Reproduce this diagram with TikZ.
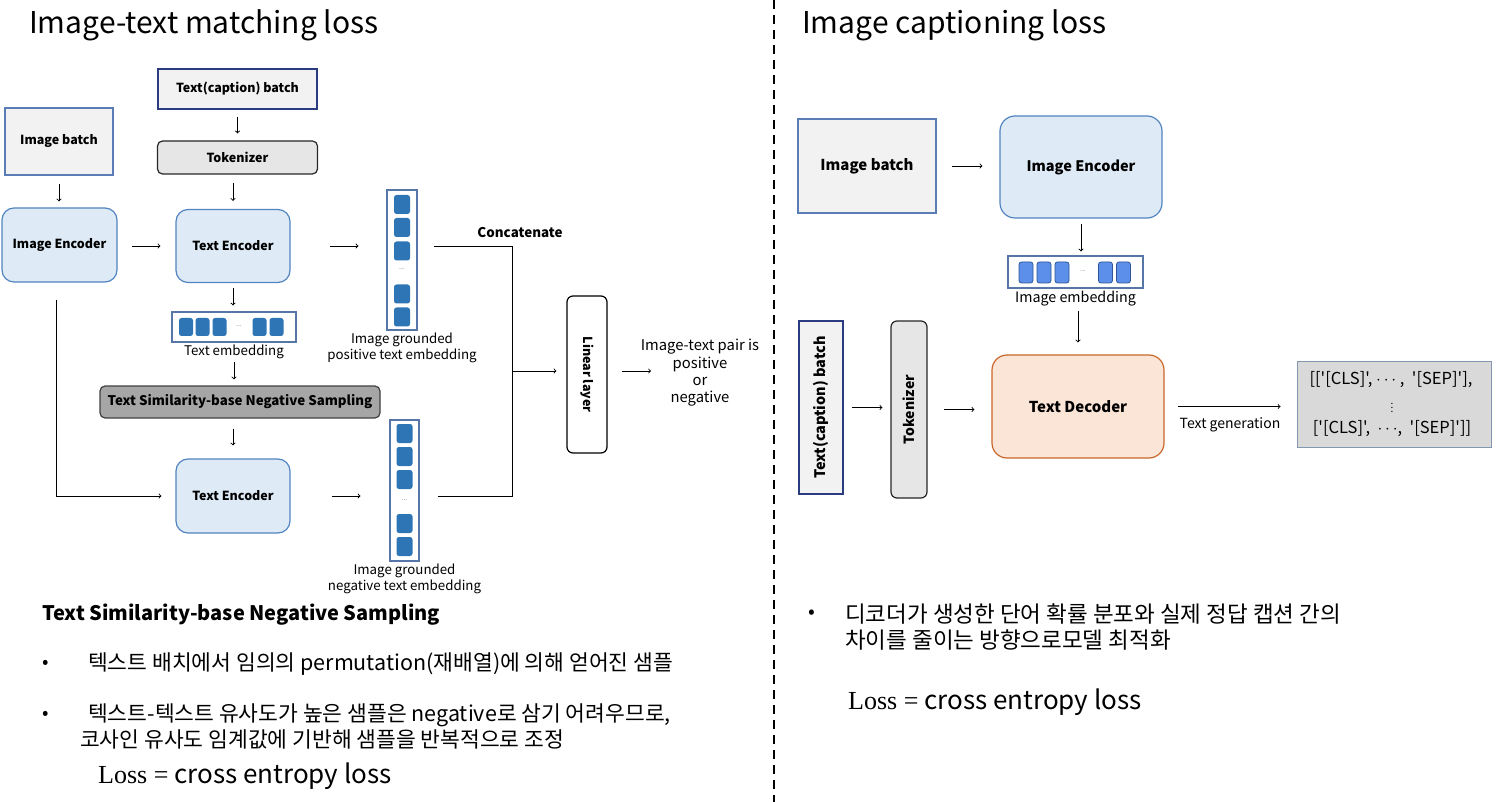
\documentclass[tikz,border=0pt]{standalone}
\usepackage{fontspec}
\setmainfont{Noto Sans CJK KR}
\newfontfamily\lossfont{Liberation Serif}
\newfontfamily\genfont{Noto Sans CJK KR}[Ligatures=TeXOff]
\usepackage{graphicx}
\usepackage{xcolor}
\usepackage{tikz}

\definecolor{batchfill}{HTML}{F2F2F2}
\definecolor{batchline}{HTML}{5B7DB5}
\definecolor{navyline}{HTML}{2A3B7F}
\definecolor{encfill}{HTML}{DEEBF7}
\definecolor{encline}{HTML}{5284BF}
\definecolor{tokfill}{HTML}{E7E6E6}
\definecolor{sampfill}{HTML}{A6A6A6}
\definecolor{decfill}{HTML}{FBE5D6}
\definecolor{decline}{HTML}{C8672A}
\definecolor{genfill}{HTML}{D9D9D9}
\definecolor{genline}{HTML}{8497B0}
\definecolor{embline}{HTML}{5676A8}
\definecolor{embfill}{HTML}{2E75B6}
\definecolor{embfillR}{HTML}{5B8FEA}
\definecolor{embcellline}{HTML}{2F5597}

\tikzset{
  boxfont/.style={font=\bfseries\fontsize{12.5}{14}\selectfont},
  boxfontR/.style={font=\bfseries\fontsize{15}{17}\selectfont},
  batchbox/.style={draw=batchline, fill=batchfill, line width=1.2pt, inner sep=0pt},
  encbox/.style={draw=encline, fill=encfill, rounded corners=12pt, line width=1.2pt, inner sep=0pt},
  tokbox/.style={draw=black!85, fill=tokfill, rounded corners=5pt, line width=1.2pt, inner sep=0pt},
  sampbox/.style={draw=black!75, fill=sampfill, rounded corners=5pt, line width=1.2pt, inner sep=0pt},
  decbox/.style={draw=decline, fill=decfill, rounded corners=15pt, line width=1.2pt, inner sep=0pt},
  linbox/.style={draw=black, fill=white, rounded corners=6pt, line width=1.2pt, inner sep=0pt},
  genbox/.style={draw=genline, fill=genfill, line width=1pt, inner sep=0pt},
  gentext/.style={inner sep=0pt, font=\genfont\fontsize{16.5}{20}\selectfont},
  embcol/.style={draw=embline, line width=1.1pt, inner sep=0pt},
  embcell/.style={fill=embfill, rounded corners=2.5pt, minimum width=16pt, minimum height=19pt, inner sep=0pt},
  embcellR/.style={fill=embfillR, draw=embcellline, line width=0.8pt, rounded corners=2.5pt,
    minimum width=14pt, minimum height=21pt, inner sep=0pt},
  dots/.style={text=black!55, font=\fontsize{7}{8}\selectfont, inner sep=0pt},
  lbl/.style={align=center, inner sep=2pt, font=\fontsize{13.3}{16}\selectfont},
  note/.style={anchor=west, inner sep=0pt, font=\fontsize{21.5}{24}\selectfont},
  noteR/.style={anchor=west, inner sep=0pt, font=\fontsize{22.5}{26}\selectfont},
  title/.style={anchor=west, inner sep=0pt, font=\fontsize{30}{34}\selectfont},
  arr/.style={->, line width=0.9pt},
  divider/.style={line width=1.5pt, dash pattern=on 9pt off 6pt},
}

\begin{document}
\begin{tikzpicture}[x=1pt,y=-1pt]
    \useasboundingbox (0,0) rectangle (1502,802);

    % Titles and the dashed divider
    \node[title] (titleL) at (29,25) {Image-text matching loss};
    \node[title] (titleR) at (802,25) {Image captioning loss};
    \draw[divider] (774,0) -- (774,802);

    % Left: inputs and encoders
    \node[batchbox, draw=navyline, boxfont, minimum width=159pt, minimum height=40pt] (capL) at (237.5,89) {Text(caption) batch};
    \node[tokbox, boxfont, minimum width=160pt, minimum height=33pt] (tokL) at (237.5,157.5) {Tokenizer};
    \node[batchbox, boxfont, minimum width=108pt, minimum height=67pt] (imgL) at (59,141.5) {Image batch};
    \node[encbox, boxfont, minimum width=115pt, minimum height=74pt] (iencL) at (59.5,245) {Image Encoder};
    \node[encbox, boxfont, minimum width=114pt, minimum height=73pt] (tencA) at (233,246) {Text Encoder};
    \node[sampbox, boxfont, font=\bfseries\fontsize{13.3}{15}\selectfont, minimum width=280pt, minimum height=32pt] (negsamp) at (240,402) {Text Similarity-base Negative Sampling};
    \node[encbox, boxfont, minimum width=114pt, minimum height=74pt] (tencB) at (233,496) {Text Encoder};

    % Left: embeddings
    \node[embcol, minimum width=124pt, minimum height=30pt] (txtemb) at (234,327) {};
    \foreach \x in {186,202.5,219.5,259.5,276.5}
        \node[embcell, minimum width=14pt, minimum height=18pt] at (\x,327) {};
    \node[dots] at (239,326) {...};
    \node[lbl, anchor=north] (txtemblbl) at (txtemb.south) {Text embedding};

    \node[embcol, minimum width=30pt, minimum height=140pt] (posemb) at (402,260) {};
    \foreach \y in {204.5,227.5,251,294,317}
        \node[embcell] at (402,\y) {};
    \node[dots] at (402,269) {...};
    \node[lbl, anchor=north] (poslbl) at (posemb.south) {Image grounded\\positive text embedding};

    \node[embcol, minimum width=29pt, minimum height=141pt] (negemb) at (404.5,490.5) {};
    \foreach \y in {433.5,456.5,479.5,523.5,546.5}
        \node[embcell] at (404.5,\y) {};
    \node[dots] at (404.5,500) {...};
    \node[lbl, anchor=north] (neglbl) at (negemb.south) {Image grounded\\negative text embedding};

    % Left: linear layer and output
    \node[linbox, minimum width=40pt, minimum height=157pt] (linear) at (587,374.5) {\rotatebox{-90}{\bfseries\fontsize{12.5}{14}\selectfont Linear layer}};
    \node[lbl, font=\fontsize{14.8}{17.4}\selectfont] (pairout) at (700,373) {Image-text pair is\\positive\\or\\negative};
    \node[boxfont, font=\bfseries\fontsize{13.4}{15}\selectfont] (concat) at (520,233) {Concatenate};
    \coordinate (cat) at (512,371);
    \coordinate (pairtip) at (651,371);

    % Left: arrows
    \draw[arr, shorten <=7pt, shorten >=7pt] (capL.south) -- (tokL.north);
    \draw[arr, shorten <=8pt, shorten >=8pt] (tokL.south -| tencA.north) -- (tencA.north);
    \draw[arr, shorten <=8pt, shorten >=6pt] (imgL.south) -- (imgL.south |- iencL.north);
    \draw[arr, shorten <=14pt, shorten >=15pt] (tencA.west -| iencL.east) -- (tencA.west);
    \draw[arr, shorten <=39pt, shorten >=28pt] (tencA.east) -- (tencA.east -| posemb.west);
    \draw[arr, shorten <=5pt, shorten >=6pt] (tencA.south) -- (tencA.south |- txtemb.north);
    \draw[arr, shorten <=1pt, shorten >=6pt] (txtemblbl.south) -- (txtemblbl.south |- negsamp.north);
    \draw[arr, shorten <=10pt, shorten >=13pt] (negsamp.south -| tencB.north) -- (tencB.north);
    \draw[arr, shorten <=17pt, shorten >=14pt] ([xshift=-3.5pt]iencL.south) |- (tencB.west);
    \draw[arr, shorten <=41pt, shorten >=29pt] (tencB.east) -- (tencB.east -| negemb.west);
    \draw[line width=0.9pt, shorten <=16pt] (tencA.east -| posemb.east) -| (cat);
    \draw[line width=0.9pt, shorten <=18pt] (tencB.east -| negemb.east) -| (cat);
    \draw[arr, shorten >=10pt] (cat) -- (cat -| linear.west);
    \draw[arr, shorten <=14pt] (pairtip -| linear.east) -- (pairtip);

    % Right: boxes
    \node[batchbox, boxfontR, minimum width=138pt, minimum height=94pt] (imgR) at (867,166) {Image batch};
    \node[encbox, boxfontR, font=\bfseries\fontsize{14.5}{17}\selectfont, rounded corners=15pt, minimum width=162pt, minimum height=102pt] (iencR) at (1081,167) {Image Encoder};
    \node[decbox, boxfontR, minimum width=172pt, minimum height=103pt] (tdec) at (1078,406.5) {Text Decoder};
    \node[batchbox, draw=navyline, minimum width=44pt, minimum height=173pt] (capR) at (821,407.5) {\rotatebox{90}{\bfseries\fontsize{14.5}{16}\selectfont Text(caption) batch}};
    \node[tokbox, rounded corners=6pt, minimum width=36pt, minimum height=177pt] (tokR) at (909,409.5) {\rotatebox{90}{\bfseries\fontsize{14}{16}\selectfont Tokenizer}};
    \node[genbox, minimum width=194pt, minimum height=86pt] (gen) at (1394,404) {};
    \node[gentext] (genA) at (1391,380) {[['[CLS]', $\cdots$ ,~~'[SEP]'],};
    \node[gentext, font=\fontsize{10}{11}\selectfont] (genB) at (1392,405) {$\vdots$};
    \node[gentext] (genC) at (1392,429) {['[CLS]',~~$\cdots$,~~'[SEP]']]};

    % Right: image embedding
    \node[embcol, minimum width=135pt, minimum height=32pt] (imgemb) at (1075.5,272) {};
    \foreach \x in {1026,1044,1062,1105.5,1123.5}
        \node[embcellR] at (\x,272.5) {};
    \node[dots] at (1083,271) {...};
    \node[lbl, anchor=north, font=\fontsize{14.3}{16}\selectfont] (imgemblbl) at (imgemb.south) {Image embedding};
    \node[lbl, font=\fontsize{14}{16}\selectfont] (genlbl) at (1230,425) {Text generation};

    % Right: arrows
    \draw[arr, shorten <=15pt, shorten >=17pt] (imgR.east) -- (imgR.east -| iencR.west);
    \draw[arr, shorten <=5pt, shorten >=4pt] (iencR.south) -- (iencR.south |- imgemb.north);
    \draw[arr, shorten <=3pt, shorten >=12pt] (tdec.north |- imgemblbl.south) -- (tdec.north);
    \draw[arr, shorten <=8pt, shorten >=8pt] (capR.east) -- (capR.east -| tokR.west);
    \draw[arr, shorten <=16pt, shorten >=17pt] (tokR.east) -- (tokR.east -| tdec.west);
    \draw[arr, shorten <=13pt, shorten >=16pt] (tdec.east) -- (tdec.east -| gen.west);

    % Left: notes
    \node[note, font=\bfseries\fontsize{20}{23}\selectfont] (samphead) at (42,615) {Text Similarity-base Negative Sampling};
    \node[note, font=\fontsize{19}{22}\selectfont] (dotA) at (42,664) {•};
    \node[note] (noteA) at (88,664) {텍스트 배치에서 임의의 permutation(재배열)에 의해 얻어진 샘플};
    \node[note, font=\fontsize{19}{22}\selectfont] (dotB) at (42,715) {•};
    \node[note] (noteB) at (88,715) {텍스트-텍스트 유사도가 높은 샘플은 negative로 삼기 어려우므로,};
    \node[note] (noteC) at (80,739) {코사인 유사도 임계값에 기반해 샘플을 반복적으로 조정};
    \node[note, font=\fontsize{26}{30}\selectfont] (lossL) at (98,776) {{\lossfont Loss =} cross entropy loss};

    % Right: notes
    \node[noteR, font=\fontsize{20}{24}\selectfont] (dotR) at (808,614) {•};
    \node[noteR] (noteR) at (845,614) {디코더가 생성한 단어 확률 분포와 실제 정답 캡션 간의};
    \node[noteR] (noteS) at (845,640) {차이를 줄이는 방향으로모델 최적화};
    \node[note, font=\fontsize{26}{30}\selectfont] (lossR) at (848,702) {{\lossfont Loss =} cross entropy loss};
\end{tikzpicture}
\end{document}
